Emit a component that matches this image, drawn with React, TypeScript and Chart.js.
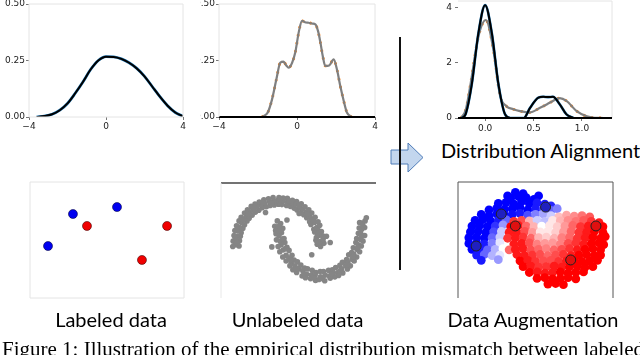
import React, { useEffect, useRef } from "react";
import { Chart, registerables } from "chart.js";
Chart.register(...registerables);

// ---------- Data ----------
// Panel 1: source density
const sourceX = [-3.6, -3.2, -2.8, -2.4, -2.0, -1.6, -1.2, -0.8, -0.4, 0, 0.4, 0.8, 1.2, 1.6, 2.0, 2.4, 2.8, 3.2, 3.6, 4.0];
const sourceY = [0, 0.004, 0.012, 0.03, 0.06, 0.105, 0.155, 0.21, 0.25, 0.267, 0.266, 0.257, 0.24, 0.215, 0.18, 0.135, 0.09, 0.05, 0.02, 0.003];
// Panel 2: target density
const targetX = [-1.8, -1.5, -1.28, -1.05, -0.86, -0.69, -0.55, -0.43, -0.25, -0.09, 0.1, 0.26, 0.45, 0.6, 0.8, 0.94, 1.08, 1.2, 1.32, 1.45, 1.65, 1.88, 2.05, 2.22, 2.4, 2.56, 2.8];
const targetY = [0, 0.02, 0.078, 0.17, 0.24, 0.245, 0.228, 0.218, 0.24, 0.285, 0.38, 0.425, 0.418, 0.417, 0.413, 0.41, 0.38, 0.33, 0.27, 0.226, 0.228, 0.255, 0.21, 0.137, 0.07, 0.02, 0];
const densityXTicks = [-4, 0, 4];
const densityYTicks = [0, 0.25, 0.5];
// Panel 3: distribution alignment
const alignedX = [-0.24, -0.2, -0.137, -0.069, 0, 0.069, 0.137, 0.206, 0.26, 0.4, 0.464, 0.55, 0.6, 0.65, 0.7, 0.77, 0.84, 0.91];
const alignedY = [0, 0.15, 1.24, 3.09, 4.1, 3.09, 1.24, 0.13, 0, 0, 0.37, 0.74, 0.77, 0.76, 0.77, 0.5, 0.13, 0];
const originalX = [-0.25, -0.2, -0.15, -0.069, 0.007, 0.086, 0.155, 0.22, 0.29, 0.36, 0.46, 0.567, 0.64, 0.7, 0.77, 0.84, 0.945, 1.05, 1.13, 1.22];
const originalY = [0, 0.3, 1.24, 2.96, 3.56, 2.47, 0.8, 0.43, 0.32, 0.25, 0.2, 0.37, 0.5, 0.62, 0.72, 0.62, 0.25, 0.06, 0.01, 0];
const alignXTicks = [0, 0.5, 1];
const alignYTicks = [0, 2, 4];
// Panel 4 / 6: labeled points
const labeledBlue = [[1.17, 4.48], [2.79, 7.24], [5.65, 7.84]];
const labeledRed = [[3.7, 6.21], [8.9, 6.21], [7.27, 3.28]];
// Panel 5: two moons (unlabeled)
const moonUpper = [
  [0.93, 0.02], [1.01, -0.03], [1.09, 0.04], [0.9, 0.11], [1.0, 0.08], [1.07, 0.13], [0.91, 0.17], [0.97, 0.22], [1.06, 0.21],
  [0.87, 0.3], [0.96, 0.33], [1.03, 0.31], [0.85, 0.36], [0.92, 0.4], [0.99, 0.45], [0.78, 0.47], [0.87, 0.52], [0.95, 0.53],
  [0.75, 0.53], [0.8, 0.6], [0.88, 0.63], [0.68, 0.62], [0.75, 0.66], [0.8, 0.73], [0.61, 0.69], [0.68, 0.75], [0.73, 0.8],
  [0.55, 0.74], [0.59, 0.82], [0.64, 0.87], [0.45, 0.8], [0.51, 0.86], [0.55, 0.94], [0.38, 0.84], [0.4, 0.92], [0.44, 0.99],
  [0.29, 0.88], [0.31, 0.96], [0.34, 1.02], [0.2, 0.9], [0.22, 0.97], [0.22, 1.06], [0.09, 0.92], [0.11, 1.0], [0.12, 1.07],
  [0.01, 0.93], [-0.02, 1.01], [0.02, 1.08], [-0.09, 0.91], [-0.11, 0.99], [-0.12, 1.08], [-0.19, 0.9], [-0.21, 0.99], [-0.23, 1.05],
  [-0.28, 0.87], [-0.32, 0.95], [-0.34, 1.03], [-0.38, 0.85], [-0.41, 0.92], [-0.45, 0.98], [-0.46, 0.79], [-0.5, 0.88], [-0.55, 0.93],
  [-0.54, 0.75], [-0.6, 0.8], [-0.64, 0.88], [-0.62, 0.68], [-0.67, 0.75], [-0.73, 0.8], [-0.69, 0.61], [-0.75, 0.67], [-0.8, 0.73],
  [-0.74, 0.55], [-0.81, 0.59], [-0.88, 0.63], [-0.8, 0.46], [-0.87, 0.51], [-0.93, 0.55], [-0.84, 0.38], [-0.92, 0.4], [-0.99, 0.44],
  [-0.88, 0.28], [-0.95, 0.32], [-1.03, 0.33], [-0.9, 0.2], [-0.98, 0.2], [-1.05, 0.22], [-0.92, 0.1], [-1.0, 0.11], [-1.07, 0.09],
  [-0.93, -0.02], [-1.01, 0.01], [-1.08, -0.03], [0.21, 0.57], [-0.15, -0.04], [-0.3, 0.74], [1.15, 0.2], [0.5, 0.72],
  [0.96, 0.05], [0.94, 0.26], [0.83, 0.57], [0.7, 0.7], [0.5, 0.9], [0.26, 1.0], [0.05, 1.04], [-0.16, 0.95], [-0.37, 0.97],
  [-0.57, 0.84], [-0.71, 0.71], [-0.85, 0.57], [-0.96, 0.37], [-1.02, 0.16], [-0.97, 0.05],
];
const moonLower = [
  [0.06, 0.49], [-0.02, 0.55], [-0.08, 0.43], [0.11, 0.38], [0.01, 0.42], [-0.06, 0.33], [0.08, 0.28], [0.02, 0.22], [-0.05, 0.26],
  [0.14, 0.15], [0.05, 0.09], [-0.04, 0.12], [0.16, 0.06], [0.07, 0.01], [0.0, -0.03], [0.21, -0.05], [0.12, -0.11], [0.04, -0.15],
  [0.26, -0.12], [0.19, -0.23], [0.11, -0.27], [0.33, -0.23], [0.26, -0.3], [0.19, -0.36], [0.38, -0.34], [0.31, -0.41], [0.28, -0.47],
  [0.46, -0.38], [0.4, -0.47], [0.35, -0.56], [0.54, -0.45], [0.5, -0.54], [0.44, -0.62], [0.63, -0.52], [0.59, -0.59], [0.57, -0.7],
  [0.7, -0.54], [0.68, -0.66], [0.65, -0.74], [0.81, -0.57], [0.79, -0.68], [0.77, -0.76], [0.9, -0.62], [0.88, -0.69], [0.89, -0.8],
  [1.0, -0.6], [1.01, -0.72], [0.97, -0.78], [1.08, -0.6], [1.12, -0.68], [1.11, -0.81], [1.2, -0.57], [1.22, -0.7], [1.24, -0.75],
  [1.29, -0.56], [1.31, -0.63], [1.35, -0.72], [1.37, -0.51], [1.42, -0.62], [1.44, -0.69], [1.47, -0.46], [1.51, -0.54], [1.54, -0.63],
  [1.53, -0.39], [1.61, -0.47], [1.65, -0.54], [1.63, -0.33], [1.66, -0.39], [1.72, -0.47], [1.68, -0.22], [1.76, -0.32], [1.81, -0.36],
  [1.75, -0.17], [1.8, -0.2], [1.87, -0.27], [1.79, -0.06], [1.88, -0.1], [1.94, -0.15], [1.85, 0.06], [1.91, 0.01], [1.98, -0.02],
  [1.87, 0.15], [1.96, 0.13], [2.02, 0.09], [1.91, 0.27], [1.97, 0.25], [2.06, 0.22], [1.93, 0.39], [1.99, 0.36], [2.06, 0.4],
  [1.94, 0.51], [2.0, 0.5], [2.07, 0.55], [1.24, 0.06], [0.8, -0.22], [2.1, 0.62],
  [0.04, 0.32], [0.1, 0.14], [0.17, -0.08], [0.3, -0.34], [0.45, -0.53], [0.62, -0.65], [0.84, -0.74], [1.05, -0.76], [1.27, -0.66],
  [1.47, -0.58], [1.64, -0.44], [1.78, -0.26], [1.9, -0.05], [1.98, 0.19], [2.02, 0.44],
];
// Panel 6: augmented cloud [x, y, label score (-1 blue ... 1 red)]
const augPoints = [
  [3.7, 9.1, -1], [4.2, 9.0, -1], [3.2, 8.8, -1],
  [3.4, 8.6, -1], [3.9, 8.75, -1], [4.4, 8.65, -1], [4.9, 8.5, -1], [5.2, 8.8, -1],
  [2.6, 8.15, -1], [3.1, 8.25, -1], [3.6, 8.1, -1], [4.1, 8.3, -1], [4.6, 8.15, -1], [5.1, 8.2, -0.9], [5.6, 8.1, -0.9], [6.0, 7.95, -0.85],
  [2.0, 7.6, -1], [2.5, 7.75, -1], [3.0, 7.65, -1], [3.5, 7.7, -1], [4.0, 7.8, -1], [4.5, 7.6, -1], [5.0, 7.7, -0.9], [5.5, 7.65, -0.75], [6.0, 7.55, -0.6], [6.4, 7.7, -0.5],
  [1.5, 7.2, -1], [2.0, 7.1, -1], [2.5, 7.25, -1], [3.0, 7.15, -1], [3.5, 7.2, -0.95], [4.0, 7.3, -0.9], [4.5, 7.15, -0.7], [5.0, 7.2, -0.5], [5.5, 7.25, -0.35], [6.0, 7.1, -0.2], [6.5, 7.0, 0.25], [7.0, 7.15, 0.35], [7.5, 7.05, 0.45], [8.0, 7.1, 0.55], [8.5, 7.0, 0.65],
  [1.1, 6.7, -1], [1.6, 6.75, -1], [2.1, 6.65, -1], [2.6, 6.7, -0.9], [3.1, 6.75, -0.6], [3.6, 6.6, 0.8], [4.1, 6.7, 0.7], [4.6, 6.65, 0.3], [5.1, 6.7, -0.2], [5.6, 6.6, -0.25], [6.1, 6.7, 0.1], [6.6, 6.65, 0.3], [7.1, 6.7, 0.45], [7.6, 6.6, 0.55], [8.1, 6.7, 0.65], [8.6, 6.6, 0.8], [9.1, 6.5, 0.9],
  [0.9, 6.2, -1], [1.4, 6.25, -1], [1.9, 6.15, -1], [2.4, 6.2, -0.8], [2.9, 6.3, -0.4], [3.4, 6.15, 1], [3.9, 6.25, 0.9], [4.4, 6.2, 0.6], [4.9, 6.15, 0.3], [5.4, 6.2, 0], [5.9, 6.25, 0.1], [6.4, 6.15, 0.2], [6.9, 6.2, 0.4], [7.4, 6.25, 0.6], [7.9, 6.15, 0.8], [8.4, 6.2, 0.9], [8.9, 6.1, 1], [9.35, 6.15, 1],
  [0.8, 5.7, -1], [1.3, 5.75, -1], [1.8, 5.65, -1], [2.3, 5.7, -0.7], [2.8, 5.75, -0.2], [3.3, 5.65, 0.9], [3.8, 5.7, 0.9], [4.3, 5.75, 0.7], [4.8, 5.65, 0.4], [5.3, 5.7, 0.1], [5.8, 5.75, 0.1], [6.3, 5.65, 0.2], [6.8, 5.7, 0.4], [7.3, 5.75, 0.6], [7.8, 5.65, 0.8], [8.3, 5.7, 0.9], [8.8, 5.75, 1], [9.35, 5.65, 1],
  [0.7, 5.2, -1], [1.2, 5.25, -1], [1.7, 5.15, -1], [2.2, 5.2, -0.6], [2.7, 5.25, -0.2], [3.2, 5.15, 0.8], [3.7, 5.2, 0.9], [4.2, 5.25, 0.8], [4.7, 5.15, 0.6], [5.2, 5.2, 0.3], [5.7, 5.25, 0.2], [6.2, 5.15, 0.3], [6.7, 5.2, 0.5], [7.2, 5.25, 0.6], [7.7, 5.15, 0.8], [8.2, 5.2, 0.9], [8.7, 5.25, 1], [9.2, 5.15, 1], [9.5, 5.3, 1],
  [0.7, 4.7, -1], [1.2, 4.75, -1], [1.7, 4.65, -0.9], [2.2, 4.7, -0.5], [2.7, 4.75, -0.1], [3.6, 4.65, 0.9], [4.1, 4.7, 0.9], [4.6, 4.75, 0.7], [5.1, 4.65, 0.5], [5.6, 4.7, 0.4], [6.1, 4.75, 0.4], [6.6, 4.65, 0.5], [7.1, 4.7, 0.7], [7.6, 4.75, 0.8], [8.1, 4.65, 0.9], [8.6, 4.7, 1], [9.1, 4.75, 1], [9.4, 4.6, 1],
  [0.9, 4.2, -1], [1.4, 4.25, -0.9], [1.9, 4.15, -0.6], [2.4, 4.2, -0.3], [2.9, 4.25, 0], [3.3, 4.15, 0.6], [3.7, 4.2, 0.9], [4.2, 4.25, 0.9], [4.7, 4.15, 0.7], [5.2, 4.2, 0.6], [5.7, 4.25, 0.5], [6.2, 4.15, 0.6], [6.7, 4.2, 0.7], [7.2, 4.25, 0.8], [7.7, 4.15, 0.9], [8.2, 4.2, 1], [8.7, 4.25, 1], [9.2, 4.15, 1],
  [1.2, 3.7, -0.9], [1.7, 3.75, -0.6], [2.2, 3.65, -0.3], [2.7, 3.7, -0.1], [3.8, 3.75, 0.9], [4.3, 3.65, 0.9], [4.8, 3.7, 0.8], [5.3, 3.75, 0.7], [5.8, 3.65, 0.6], [6.3, 3.7, 0.7], [6.8, 3.75, 0.8], [7.3, 3.65, 0.9], [7.8, 3.7, 1], [8.3, 3.75, 1], [8.8, 3.65, 1], [9.2, 3.7, 1],
  [1.5, 3.25, -0.9], [2.6, 3.3, -0.4], [4.0, 3.2, 1], [4.5, 3.25, 0.9], [5.0, 3.15, 0.8], [5.5, 3.2, 0.7], [6.0, 3.25, 0.7], [6.5, 3.15, 0.8], [7.0, 3.2, 0.9], [7.5, 3.25, 1], [8.0, 3.15, 1], [8.5, 3.2, 1], [9.0, 3.25, 1],
  [4.2, 2.7, 1], [4.7, 2.75, 0.9], [5.2, 2.65, 0.8], [5.7, 2.7, 0.8], [6.2, 2.75, 0.9], [6.7, 2.65, 0.9], [7.2, 2.7, 1], [7.7, 2.75, 1], [8.2, 2.65, 1], [8.7, 2.7, 1],
  [4.6, 2.2, 1], [5.1, 2.25, 0.9], [5.6, 2.15, 0.9], [6.1, 2.2, 0.9], [6.6, 2.25, 1], [7.1, 2.15, 1], [7.6, 2.2, 1], [8.1, 2.25, 1],
  [5.1, 1.7, 1], [5.6, 1.75, 1], [6.1, 1.65, 1], [6.6, 1.7, 1], [7.1, 1.75, 1], [7.6, 1.65, 1],
  [5.8, 1.2, 1], [6.3, 1.25, 1], [6.8, 1.15, 1],
];

const captionText = "Figure 1: Illustration of the empirical distribution mismatch between labeled and unlabeled data";

// ---------- Helpers ----------
const xy = (xs: number[], ys: number[]) => xs.map((x, i) => ({ x, y: ys[i] }));
const pairs = (ps: number[][]) => ps.map((p) => ({ x: p[0], y: p[1] }));
const scoreColor = (v: number) => {
  if (v < 0) {
    const c = Math.round(255 * (1 + v));
    return `rgb(${c},${c},255)`;
  }
  const c = Math.round(255 * (1 - v));
  return `rgb(255,${c},${c})`;
};
const fmtTick = (v: number, digits: number) => {
  const s = Math.abs(v).toFixed(digits);
  return v < 0 ? "\u2212" + s : s;
};

const framePlugin = {
  id: "frame",
  afterDraw(chart: any, _args: any, opts: any) {
    const { ctx, chartArea: a } = chart;
    const sides: [string, number, number, number, number][] = [
      ["top", a.left, a.top, a.right, a.top],
      ["right", a.right, a.top, a.right, a.bottom],
      ["bottom", a.left, a.bottom, a.right, a.bottom],
      ["left", a.left, a.top, a.left, a.bottom],
    ];
    ctx.save();
    for (const [k, x1, y1, x2, y2] of sides) {
      const s = opts && opts[k];
      if (!s) continue;
      ctx.strokeStyle = s[0];
      ctx.lineWidth = s[1];
      ctx.beginPath();
      ctx.moveTo(x1, y1);
      ctx.lineTo(x2, y2);
      ctx.stroke();
    }
    ctx.restore();
  },
};

function linAxis(min: number, max: number, ticks: number[], fixed: number, isX: boolean, digits: number, fontSize: number, pad: number) {
  return {
    type: "linear",
    min,
    max,
    afterBuildTicks: (s: any) => {
      s.ticks = ticks.map((v) => ({ value: v }));
    },
    afterFit: (s: any) => {
      if (isX) s.height = fixed;
      else s.width = fixed;
      s.paddingLeft = 0;
      s.paddingRight = 0;
      s.paddingTop = 0;
      s.paddingBottom = 0;
    },
    ticks: {
      font: { family: "DejaVu Sans", size: fontSize },
      color: "#222",
      padding: pad,
      maxRotation: 0,
      autoSkip: false,
      callback: (v: number) => fmtTick(v, digits),
    },
    grid: { drawOnChartArea: false, drawTicks: true, tickLength: 3, color: "#777", lineWidth: 1 },
    border: { display: false },
  };
}

function hiddenAxis(min: number, max: number) {
  return { type: "linear", min, max, display: false };
}

function baseOptions(padding: any, scales: any, frame: any) {
  return {
    responsive: false,
    animation: false,
    devicePixelRatio: 1,
    events: [],
    layout: { padding },
    plugins: { legend: { display: false }, tooltip: { enabled: false }, frame },
    scales,
    elements: { point: { radius: 0 }, line: { cubicInterpolationMode: "monotone", fill: false } },
  };
}

const LIGHT = "#e4e4e4";

// Note: in Chart.js the first dataset is painted last (on top).
const lineDs = (data: any, color: string, width: number, dash: number[] = []) => ({
  data,
  borderColor: color,
  borderWidth: width,
  borderDash: dash,
  pointRadius: 0,
  fill: false,
  cubicInterpolationMode: "monotone",
});

// ---------- Chart configs ----------
const configs: Record<string, () => any> = {
  source: () => ({
    type: "line",
    data: { datasets: [lineDs(xy(sourceX, sourceY), "#000", 2), lineDs(xy(sourceX, sourceY), "#1f77b4", 2.8)] },
    options: baseOptions(
      { left: 0, right: 17, top: 4, bottom: 0 },
      { x: linAxis(-4, 4, densityXTicks, 18, true, 0, 9, 1), y: linAxis(0, 0.5, densityYTicks, 29, false, 2, 9, 1) },
      { top: [LIGHT, 1], right: [LIGHT, 1], bottom: [LIGHT, 1], left: [LIGHT, 1] }
    ),
    plugins: [framePlugin],
  }),
  target: () => ({
    type: "line",
    data: { datasets: [lineDs(xy(targetX, targetY), "#7f7f7f", 2.2), lineDs(xy(targetX, targetY), "#ff7f0e", 2.8, [2, 6])] },
    options: baseOptions(
      { left: 0, right: 25, top: 4, bottom: 0 },
      { x: linAxis(-4, 4, densityXTicks, 18, true, 0, 9, 1), y: linAxis(0, 0.5, densityYTicks, 19, false, 2, 9, 1) },
      { top: [LIGHT, 1], right: [LIGHT, 1], left: [LIGHT, 1], bottom: ["#000", 2] }
    ),
    plugins: [framePlugin],
  }),
  align: () => ({
    type: "line",
    data: {
      datasets: [
        lineDs(xy(alignedX, alignedY), "#000", 2),
        lineDs(xy(alignedX, alignedY), "#1f77b4", 2.6),
        lineDs(xy(originalX, originalY), "#7f7f7f", 2.2),
        lineDs(xy(originalX, originalY), "#ff7f0e", 2.8, [2, 6]),
      ],
    },
    options: baseOptions(
      { left: 0, right: 28, top: 1, bottom: 0 },
      { x: linAxis(-0.28, 1.31, alignXTicks, 17, true, 1, 9, 2), y: linAxis(0, 4.25, alignYTicks, 38, false, 0, 9, 3) },
      { top: [LIGHT, 1], right: [LIGHT, 1], bottom: ["#000", 2] }
    ),
    plugins: [framePlugin],
  }),
  labeled: () => ({
    type: "scatter",
    data: {
      datasets: [
        { data: pairs(labeledBlue), pointRadius: 4.5, pointBackgroundColor: "#0000f0", pointBorderColor: "rgba(0,0,60,0.7)", pointBorderWidth: 0.8, clip: false },
        { data: pairs(labeledRed), pointRadius: 4.5, pointBackgroundColor: "#f00000", pointBorderColor: "rgba(60,0,0,0.7)", pointBorderWidth: 0.8, clip: false },
      ],
    },
    options: baseOptions(
      { left: 10, right: 16, top: 10, bottom: 10 },
      { x: hiddenAxis(0, 10), y: hiddenAxis(0, 10) },
      { top: [LIGHT, 1], right: [LIGHT, 1], bottom: [LIGHT, 1], left: [LIGHT, 1] }
    ),
    plugins: [framePlugin],
  }),
  moons: () => ({
    type: "scatter",
    data: {
      datasets: [
        { data: pairs(moonUpper), pointRadius: 2.8, pointBackgroundColor: "#858585", pointBorderWidth: 0, clip: false },
        { data: pairs(moonLower), pointRadius: 2.8, pointBackgroundColor: "#858585", pointBorderWidth: 0, clip: false },
      ],
    },
    options: baseOptions(
      { left: 11, right: 14, top: 10, bottom: 10 },
      { x: hiddenAxis(-1.36, 2.33), y: hiddenAxis(-1.2, 1.41) },
      { top: ["#444", 1.5], left: ["#e8e8e8", 1] }
    ),
    plugins: [framePlugin],
  }),
  augment: () => ({
    type: "scatter",
    data: {
      datasets: [
        { data: pairs(labeledBlue), pointRadius: 5, pointBackgroundColor: "#2020c0", pointBorderColor: "#222", pointBorderWidth: 1, clip: false },
        { data: pairs(labeledRed), pointRadius: 5, pointBackgroundColor: "#e01010", pointBorderColor: "#222", pointBorderWidth: 1, clip: false },
        { data: pairs(augPoints), pointRadius: 4.4, pointBackgroundColor: augPoints.map((p) => scoreColor(p[2])), pointBorderWidth: 0, clip: false },
      ],
    },
    options: baseOptions(
      { left: 18, right: 17, top: 10, bottom: 10 },
      { x: hiddenAxis(0, 10), y: hiddenAxis(0, 10) },
      { top: ["#555", 1], right: ["#555", 1], left: ["#555", 1] }
    ),
    plugins: [framePlugin],
  }),
};

function ChartBox({ name, left, top, width, height }: { name: string; left: number; top: number; width: number; height: number }) {
  const ref = useRef<HTMLCanvasElement>(null);
  useEffect(() => {
    const chart = new Chart(ref.current as HTMLCanvasElement, configs[name]());
    return () => chart.destroy();
  }, [name]);
  return (
    <div style={{ position: "absolute", left, top, width, height, overflow: "hidden" }}>
      <canvas ref={ref} width={width} height={height} style={{ width, height, display: "block" }} />
    </div>
  );
}

const LABEL_FONT = "Lato, 'Open Sans', sans-serif";

function Label({ text, center, left, top, size, family }: { text: string; center?: number; left?: number; top: number; size: number; family: string }) {
  const style: any = { position: "absolute", top, fontSize: size, fontFamily: family, lineHeight: 1, whiteSpace: "nowrap", color: "#000" };
  if (center !== undefined) {
    style.left = center - 150;
    style.width = 300;
    style.textAlign = "center";
  } else {
    style.left = left;
  }
  return <div style={style}>{text}</div>;
}

export default function App() {
  return (
    <div style={{ position: "absolute", left: 0, top: 0, width: 640, height: 355, overflow: "hidden", background: "#fff" }}>
      <ChartBox name="source" left={0} top={0} width={200} height={135} />
      <ChartBox name="target" left={200} top={0} width={200} height={135} />
      <ChartBox name="align" left={420} top={0} width={220} height={135} />
      <ChartBox name="labeled" left={20} top={172} width={180} height={136} />
      <ChartBox name="moons" left={210} top={173} width={180} height={135} />
      <ChartBox name="augment" left={440} top={172} width={190} height={136} />
      <svg style={{ position: "absolute", left: 388, top: 140 }} width={40} height={36}>
        <polygon points="3,10 20,10 20,3 35,17.5 20,32 20,24 3,24" fill="#c3d6ee" stroke="#4f7cb8" strokeWidth={1} />
      </svg>
      <div style={{ position: "absolute", left: 399, top: 37, width: 2, height: 233, background: "#111" }} />
      <Label text="Distribution Alignment" left={441} top={139.5} size={20} family={LABEL_FONT} />
      <Label text="Labeled data" center={111} top={309} size={20} family={LABEL_FONT} />
      <Label text="Unlabeled data" center={297.5} top={309} size={20} family={LABEL_FONT} />
      <Label text="Data Augmentation" center={533} top={308.5} size={20} family={LABEL_FONT} />
      <Label text={captionText} left={2} top={338.5} size={21} family="'Liberation Serif', 'Times New Roman', serif" />
    </div>
  );
}
